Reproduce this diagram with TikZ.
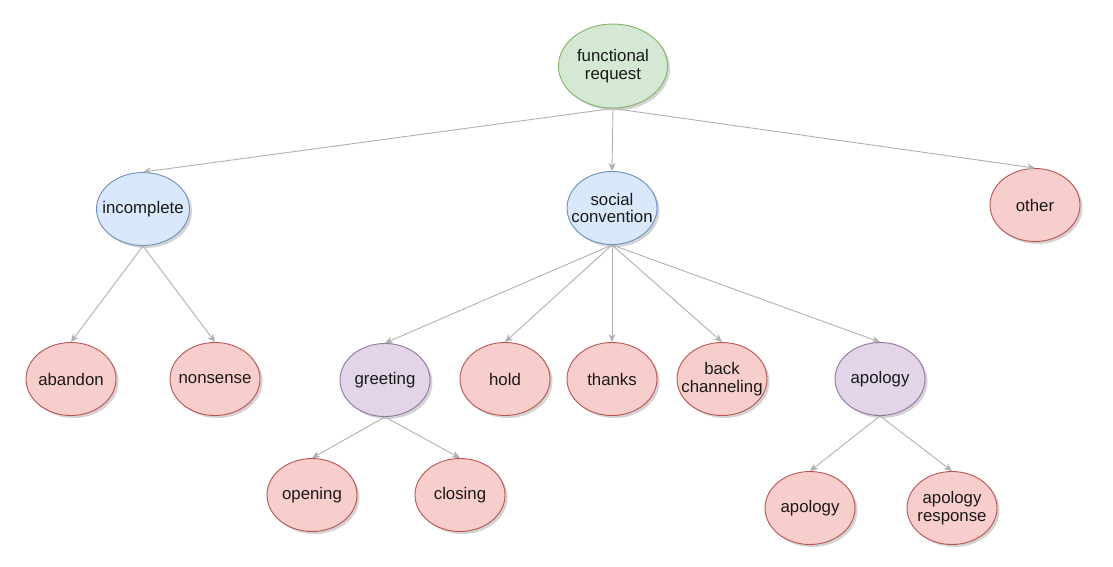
\documentclass[tikz,border=0pt]{standalone}
\usepackage{fontspec}
\setmainfont{Liberation Sans}
\usetikzlibrary{shapes.geometric,arrows.meta,shadows}
\definecolor{gfill}{HTML}{D5E8D4}\definecolor{gline}{HTML}{82B366}
\definecolor{bfill}{HTML}{DAE8FC}\definecolor{bline}{HTML}{6C8EBF}
\definecolor{rfill}{HTML}{F8CECC}\definecolor{rline}{HTML}{B85450}
\definecolor{pfill}{HTML}{E1D5E7}\definecolor{pline}{HTML}{9673A6}
\definecolor{edgec}{HTML}{B0B0B0}
\tikzset{
  base/.style={ellipse, draw, line width=0.9pt, minimum width=90pt, minimum height=73pt,
    inner xsep=-12pt, inner ysep=0pt,
    align=center, font=\fontsize{16.8}{17.5}\selectfont, text=black!90,
    drop shadow={shadow xshift=2.5pt, shadow yshift=-2.5pt, opacity=0.35, fill=black!50}},
  gnode/.style={base, fill=gfill, draw=gline},
  bnode/.style={base, fill=bfill, draw=bline},
  rnode/.style={base, fill=rfill, draw=rline},
  pnode/.style={base, fill=pfill, draw=pline},
  link/.style={draw=edgec, line width=0.9pt, -{Stealth[length=8pt,width=7pt,inset=2.5pt]}, shorten >=0pt}
}
\begin{document}
\begin{tikzpicture}[x=1pt,y=-1pt]
\useasboundingbox (0,0) rectangle (1113,567);
\node[gnode, minimum width=109pt, minimum height=84pt] (fr) at (613,66) {functional\\request};
\node[bnode, minimum width=93pt] (inc) at (143,209) {incomplete};
\node[bnode] (sc) at (612,208) {social\\convention};
\node[rnode] (oth) at (1035,205) {other};
\node[rnode] (ab) at (71,379) {abandon};
\node[rnode] (ns) at (215,379) {nonsense};
\node[pnode] (gr) at (385,380) {greeting};
\node[rnode] (ho) at (505,379) {hold};
\node[rnode] (th) at (612,379) {thanks};
\node[rnode] (bc) at (722,379) {back\\channeling};
\node[pnode] (ap) at (880,379) {apology};
\node[rnode] (op) at (312,495) {opening};
\node[rnode] (cl) at (460,495) {closing};
\node[rnode] (apl) at (810,508) {apology};
\node[rnode] (apr) at (952,508) {apology\\response};
\draw[link] (fr.south) -- (inc.north);
\draw[link] (fr.south) -- (sc.north);
\draw[link] (fr.south) -- (oth.north);
\draw[link] (inc.south) -- (ab.north);
\draw[link] (inc.south) -- (ns.north);
\draw[link] (sc.south) -- (gr.north);
\draw[link] (sc.south) -- (ho.north);
\draw[link] (sc.south) -- (th.north);
\draw[link] (sc.south) -- (bc.north);
\draw[link] (sc.south) -- (ap.north);
\draw[link] (gr.south) -- (op.north);
\draw[link] (gr.south) -- (cl.north);
\draw[link] (ap.south) -- (apl.north);
\draw[link] (ap.south) -- (apr.north);
\end{tikzpicture}
\end{document}
